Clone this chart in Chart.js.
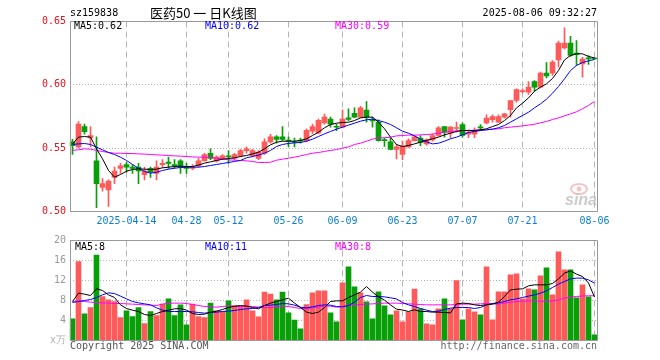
<!DOCTYPE html>
<html><head><meta charset="utf-8">
<script src="https://cdn.jsdelivr.net/npm/chart.js@4.4.1/dist/chart.umd.min.js"></script>
<style>
html,body{margin:0;padding:0;background:#fff;}
#wrap{position:relative;width:660px;height:360px;overflow:hidden;background:#fff;}
canvas{position:absolute;left:0;top:0;}
</style></head><body>
<div id="wrap"><canvas id="k" width="660" height="360"></canvas><canvas id="v" width="660" height="360"></canvas></div>
<script>
const dates = ['2025-03-31','2025-04-01','2025-04-02','2025-04-03','2025-04-07','2025-04-08','2025-04-09','2025-04-10','2025-04-11','2025-04-14','2025-04-15','2025-04-16','2025-04-17','2025-04-18','2025-04-21','2025-04-22','2025-04-23','2025-04-24','2025-04-25','2025-04-28','2025-04-29','2025-04-30','2025-05-06','2025-05-07','2025-05-08','2025-05-09','2025-05-12','2025-05-13','2025-05-14','2025-05-15','2025-05-16','2025-05-19','2025-05-20','2025-05-21','2025-05-22','2025-05-23','2025-05-26','2025-05-27','2025-05-28','2025-05-29','2025-05-30','2025-06-03','2025-06-04','2025-06-05','2025-06-06','2025-06-09','2025-06-10','2025-06-11','2025-06-12','2025-06-13','2025-06-16','2025-06-17','2025-06-18','2025-06-19','2025-06-20','2025-06-23','2025-06-24','2025-06-25','2025-06-26','2025-06-27','2025-06-30','2025-07-01','2025-07-02','2025-07-03','2025-07-04','2025-07-07','2025-07-08','2025-07-09','2025-07-10','2025-07-11','2025-07-14','2025-07-15','2025-07-16','2025-07-17','2025-07-18','2025-07-21','2025-07-22','2025-07-23','2025-07-24','2025-07-25','2025-07-28','2025-07-29','2025-07-30','2025-07-31','2025-08-01','2025-08-04','2025-08-05','2025-08-06'];

const tickDates  = ['2025-04-14','2025-04-28','2025-05-12','2025-05-26','2025-06-09','2025-06-23','2025-07-07','2025-07-21','2025-08-06'];
const tickLabels = ['2025-04-14','04-28','05-12','05-26','06-09','06-23','07-07','07-21','08-06'];

const open = [0.555,0.551,0.567,0.558,0.540,0.519,0.517,0.527,0.534,0.537,
0.535,0.535,0.529,0.534,0.530,0.537,0.539,0.537,0.540,0.5345,
0.534,0.536,0.540,0.546,0.540,0.542,0.544,0.542,0.544,0.548,
0.544,0.542,0.546,0.555,0.559,0.559,0.556,0.555,0.556,0.556,
0.5635,0.562,0.570,0.573,0.567,0.5666,0.574,0.5776,0.5745,0.580,
0.572,0.5705,0.5563,0.555,0.549,0.545,0.551,0.556,0.558,0.5534,
0.5566,0.560,0.567,0.562,0.5655,0.5687,0.561,0.561,0.5663,0.570,
0.5724,0.5705,0.5745,0.5803,0.5876,0.5947,0.5942,0.6026,0.5982,0.6092,
0.6092,0.6197,0.6292,0.6329,0.625,0.6166,0.6206,0.6206];
const high = [0.557,0.571,0.569,0.567,0.559,0.526,0.525,0.535,0.538,0.539,
0.537,0.538,0.535,0.535,0.540,0.541,0.543,0.541,0.541,0.538,
0.537,0.542,0.546,0.5495,0.544,0.545,0.548,0.546,0.549,0.551,
0.549,0.548,0.5574,0.561,0.560,0.567,0.559,0.558,0.558,0.5653,
0.569,0.573,0.577,0.5745,0.569,0.580,0.581,0.5818,0.583,0.5868,
0.5745,0.5724,0.558,0.558,0.553,0.5555,0.5574,0.560,0.560,0.5574,
0.5613,0.567,0.5671,0.567,0.5705,0.570,0.5645,0.566,0.5687,0.5763,
0.5763,0.5763,0.5776,0.5876,0.5968,0.5968,0.6026,0.6034,0.610,0.6176,
0.6192,0.6345,0.645,0.6382,0.635,0.6218,0.623,0.6213];
const low = [0.545,0.550,0.561,0.551,0.503,0.516,0.504,0.522,0.530,0.531,
0.530,0.522,0.525,0.527,0.525,0.535,0.534,0.534,0.530,0.530,
0.533,0.535,0.540,0.541,0.539,0.541,0.538,0.541,0.543,0.546,
0.543,0.541,0.545,0.554,0.554,0.556,0.551,0.551,0.554,0.555,
0.5613,0.5613,0.569,0.5666,0.5639,0.566,0.5718,0.574,0.574,0.5705,
0.5666,0.5555,0.5513,0.5487,0.5416,0.541,0.5503,0.5555,0.552,0.5524,
0.5555,0.5592,0.5587,0.5582,0.5626,0.5587,0.5582,0.5582,0.5639,0.5692,
0.5705,0.5703,0.5737,0.5745,0.5863,0.5934,0.5924,0.595,0.5976,0.6055,
0.6074,0.6139,0.6284,0.6224,0.6153,0.6061,0.6161,0.620];
const close = [0.552,0.569,0.563,0.560,0.522,0.522,0.524,0.532,0.536,0.535,
0.534,0.532,0.532,0.531,0.535,0.538,0.538,0.536,0.535,0.534,
0.535,0.540,0.545,0.542,0.543,0.544,0.543,0.545,0.548,0.5495,
0.548,0.547,0.555,0.559,0.557,0.557,0.5555,0.5545,0.5555,0.564,
0.567,0.572,0.5745,0.569,0.5665,0.573,0.5726,0.5745,0.5818,0.5745,
0.5715,0.556,0.556,0.549,0.551,0.5516,0.556,0.559,0.5545,0.5566,
0.560,0.566,0.5626,0.5666,0.566,0.560,0.5626,0.5634,0.566,0.5737,
0.575,0.575,0.5771,0.5876,0.5963,0.595,0.5982,0.5982,0.6092,0.6071,
0.6179,0.6329,0.6329,0.6232,0.624,0.6203,0.6205,0.6205];

const ma5 = [0.5534,0.5587,0.5592,0.5587,0.5495,0.5416,0.5324,0.5271,0.5292,0.5318,
0.5332,0.5337,0.5334,0.5332,0.5334,0.5345,0.5350,0.5355,0.5358,0.5355,
0.5355,0.5366,0.5382,0.5392,0.5403,0.5413,0.5418,0.5424,0.5434,0.5442,
0.5455,0.5468,0.5495,0.5526,0.5547,0.5555,0.5555,0.5555,0.5561,0.5574,
0.5600,0.5626,0.5661,0.5687,0.5697,0.5703,0.5705,0.5718,0.5739,0.5745,
0.5745,0.5705,0.5653,0.5587,0.5529,0.5513,0.5521,0.5534,0.5547,0.5561,
0.5574,0.5587,0.5605,0.5618,0.5632,0.5639,0.5639,0.5639,0.5645,0.5653,
0.5671,0.5687,0.5718,0.5758,0.5818,0.5855,0.5897,0.5950,0.5982,0.6008,
0.6050,0.6113,0.6197,0.6232,0.6245,0.6245,0.6224,0.6213];
const ma10 = [0.5529,0.5534,0.5537,0.5529,0.5508,0.5487,0.5466,0.5450,0.5429,0.5403,
0.5371,0.5342,0.5316,0.5303,0.5310,0.5324,0.5334,0.5342,0.5347,0.5350,
0.5350,0.5350,0.5355,0.5363,0.5371,0.5379,0.5387,0.5395,0.5403,0.5424,
0.5434,0.5445,0.5460,0.5482,0.5513,0.5529,0.5537,0.5542,0.5545,0.5555,
0.5571,0.5592,0.5613,0.5632,0.5650,0.5666,0.5682,0.5697,0.5713,0.5724,
0.5729,0.5718,0.5705,0.5687,0.5661,0.5634,0.5618,0.5597,0.5571,0.5550,
0.5534,0.5539,0.5555,0.5574,0.5587,0.5605,0.5624,0.5632,0.5639,0.5645,
0.5650,0.5661,0.5679,0.5705,0.5732,0.5758,0.5784,0.5818,0.5850,0.5887,
0.5934,0.5987,0.6047,0.6113,0.6153,0.6176,0.6190,0.6200];
const ma30 = [0.5482,0.5487,0.5495,0.5492,0.5482,0.5474,0.5466,0.5460,0.5460,0.5458,
0.5458,0.5455,0.5453,0.5450,0.5447,0.5445,0.5442,0.5439,0.5437,0.5434,
0.5431,0.5429,0.5429,0.5426,0.5421,0.5416,0.5408,0.5405,0.5403,0.5400,
0.5395,0.5387,0.5387,0.5389,0.5405,0.5413,0.5421,0.5429,0.5439,0.5450,
0.5460,0.5466,0.5474,0.5482,0.5489,0.5500,0.5510,0.5529,0.5539,0.5555,
0.5571,0.5582,0.5582,0.5587,0.5597,0.5600,0.5603,0.5603,0.5605,0.5608,
0.5611,0.5618,0.5626,0.5632,0.5637,0.5639,0.5639,0.5642,0.5645,0.5645,
0.5650,0.5653,0.5661,0.5666,0.5671,0.5676,0.5682,0.5689,0.5700,0.5711,
0.5726,0.5739,0.5755,0.5771,0.5787,0.5811,0.5837,0.5868];

const volume = [4.33,15.8,5.33,6.6,17.1,8.8,8.13,7.8,4.6,5.93,
4.8,6.6,3.4,5.8,5.0,7.27,8.33,5.0,7.13,3.13,
7.27,4.8,4.6,7.47,5.93,5.8,7.93,7.0,6.8,8.13,
5.93,4.73,9.67,9.27,8.13,9.67,5.53,4.07,2.33,7.2,
9.53,9.93,9.93,5.53,3.73,11.53,14.73,10.73,9.53,7.73,
4.33,9.73,6.93,5.13,5.93,3.73,5.67,10.3,6.33,3.33,
3.13,6.33,8.33,6.33,12.0,4.13,6.33,5.73,5.13,14.73,
4.13,9.73,9.73,13.13,13.33,8.33,10.33,10.13,12.93,14.53,
9.13,17.73,14.13,14.13,8.53,11.13,8.73,1.13];
const volMa5 = [7.8,9.47,9.27,9.0,10.33,10.0,9.13,8.6,7.13,6.4,
6.07,5.8,5.2,5.0,5.4,5.8,6.07,6.33,6.4,6.07,
5.4,5.2,5.27,5.67,5.87,6.2,6.6,6.85,7.0,6.87,
6.6,6.33,7.0,7.47,7.8,8.13,8.47,7.47,6.6,5.67,
5.4,5.67,6.6,7.8,7.93,7.93,8.6,9.13,9.67,10.8,
9.67,8.73,8.07,7.13,6.27,6.1,5.8,6.13,5.8,5.8,
5.67,5.67,5.6,5.53,7.33,7.47,7.4,7.13,7.0,7.13,
7.27,7.67,8.8,10.13,10.27,10.33,10.93,11.13,11.13,11.13,
11.4,12.33,13.47,13.93,13.27,12.8,11.5,8.7];
const volMa10 = [7.6,7.8,8.0,8.2,8.6,9.13,9.53,9.4,8.87,8.33,
7.8,7.53,7.33,7.13,6.53,6.07,5.8,5.8,5.8,5.8,
5.73,5.6,5.47,5.6,5.67,5.8,5.87,6.0,6.2,6.33,
6.4,6.6,7.0,7.07,7.2,7.4,7.33,7.07,6.67,6.53,
6.73,7.0,7.13,7.07,6.8,6.73,7.0,7.67,8.6,9.0,
8.8,8.8,8.73,8.53,8.33,7.6,7.13,6.8,6.4,6.07,
5.8,5.87,6.2,6.47,6.6,6.6,6.6,6.4,6.6,7.13,
7.4,7.53,7.8,8.13,8.33,8.6,8.87,9.13,9.47,9.93,
10.6,11.27,11.8,12.33,12.47,12.47,12.13,11.47];
const volMa30 = [7.8,7.93,7.8,7.67,7.6,7.53,7.47,7.4,7.4,7.33,
7.27,7.2,7.13,7.07,7.0,7.27,7.47,7.47,7.47,7.4,
7.2,7.0,6.8,6.73,6.67,6.8,6.93,6.8,6.8,6.87,
6.8,6.67,6.6,6.6,6.73,6.87,6.8,6.6,6.4,6.4,
6.53,6.67,6.87,6.87,6.67,6.8,7.0,7.13,7.2,7.27,
7.33,7.4,7.47,7.47,7.47,7.4,7.33,7.27,7.2,7.13,
7.13,7.13,7.13,7.13,7.2,7.27,7.27,7.27,7.33,7.4,
7.33,7.27,7.47,7.67,7.8,7.87,7.93,7.93,7.87,7.8,
7.93,8.13,8.47,8.67,8.8,8.9,8.95,8.95];

const priceTicks = [0.50, 0.55, 0.60, 0.65];
const volTicks = [0, 4, 8, 12, 16, 20];

/* ---- styling ---- */
const RED = '#ff5a5a', GREEN = '#089f08';
const MONO = '"DejaVu Sans Mono","Liberation Mono",monospace';
const GRID = '#b4b4b4', FRAME = '#999999';
const up = dates.map((d, i) => close[i] >= open[i]);
const colors = up.map(u => u ? RED : GREEN);
const tickIdx = tickDates.map(d => dates.indexOf(d));
const labelFor = i => { const k = tickIdx.indexOf(i); return k >= 0 ? tickLabels[k] : ''; };
const gridColor = ctx => tickIdx.indexOf(ctx.index) >= 0 ? GRID : 'rgba(0,0,0,0)';

const framePlugin = {
  id: 'frame',
  afterDraw(chart) {
    const a = chart.chartArea, c = chart.ctx;
    c.save();
    c.strokeStyle = FRAME; c.lineWidth = 1;
    const l = Math.ceil(a.left) + 0.5, r = Math.floor(a.right) + 0.5;
    const t = Math.floor(a.top) + 0.5, b = Math.floor(a.bottom) + 0.5;
    c.beginPath(); c.rect(l, t, r - l, b - t); c.stroke();
    c.restore();
  }
};

function txt(c, s, x, y, color, font, align) {
  c.fillStyle = color; c.font = font; c.textAlign = align || 'left'; c.textBaseline = 'middle';
  c.fillText(s, x, y);
}

const kText = {
  id: 'ktext',
  beforeDatasetsDraw(chart) {
    const c = chart.ctx; c.save();
    // sina watermark
    c.strokeStyle = 'rgba(235,160,160,0.6)'; c.lineWidth = 2;
    c.beginPath(); c.ellipse(579, 189, 8, 5, 0, 0, Math.PI * 2); c.stroke();
    c.fillStyle = 'rgba(235,160,160,0.6)';
    c.beginPath(); c.arc(579, 189, 2.5, 0, Math.PI * 2); c.fill();
    txt(c, 'sina', 581, 201, 'rgba(185,185,185,0.75)', 'italic bold 16px "Liberation Sans",Arial,sans-serif', 'center');
    c.restore();
  },
  afterDraw(chart) {
    const c = chart.ctx; c.save();
    txt(c, 'sz159838', 70, 13.5, '#000', '10px ' + MONO);
    txt(c, '医药50 一 日K线图', 150, 13.5, '#000', '13px "Noto Sans CJK SC",sans-serif');
    txt(c, '2025-08-06 09:32:27', 597, 13.5, '#000', '10px ' + MONO, 'right');
    txt(c, 'MA5:0.62', 74, 26.5, '#000', '10px ' + MONO);
    txt(c, 'MA10:0.62', 205, 26.5, '#0000ff', '10px ' + MONO);
    txt(c, 'MA30:0.59', 335, 26.5, '#ff00ff', '10px ' + MONO);
    c.restore();
  }
};
const vText = {
  id: 'vtext',
  afterDraw(chart) {
    const c = chart.ctx; c.save();
    txt(c, 'MA5:8', 75, 247, '#000', '10px ' + MONO);
    txt(c, 'MA10:11', 205, 247, '#0000ff', '10px ' + MONO);
    txt(c, 'MA30:8', 335, 247, '#ff00ff', '10px ' + MONO);
    txt(c, 'Copyright 2025 SINA.COM', 70, 346.5, '#555', '10px ' + MONO);
    txt(c, 'http://finance.sina.com.cn', 597, 346.5, '#666', '10px ' + MONO, 'right');
    c.restore();
  }
};

const lineDs = (data, color) => ({ type: 'line', data, borderColor: color, borderWidth: 1, pointRadius: 0, tension: 0, order: 1 });

new Chart(document.getElementById('k'), {
  data: {
    labels: dates,
    datasets: [
      lineDs(ma5, '#000000'),
      lineDs(ma10, '#0000ff'),
      lineDs(ma30, '#ff00ff'),
      { type: 'bar', data: dates.map((d, i) => [low[i], high[i]]), backgroundColor: colors, barThickness: 1, grouped: false, order: 3 },
      { type: 'bar', data: dates.map((d, i) => [open[i], close[i]]), backgroundColor: colors, barThickness: 5, minBarLength: 1, grouped: false, order: 2 }
    ]
  },
  options: {
    responsive: false, animation: false, devicePixelRatio: 1,
    layout: { padding: { left: 0, right: 62.5, top: 21.5, bottom: 120 } },
    plugins: { legend: { display: false }, tooltip: { enabled: false } },
    scales: {
      x: {
        type: 'category', offset: true,
        grid: { offset: false, drawTicks: false, color: gridColor, lineWidth: 1 },
        border: { display: false, dash: [6, 4] },
        ticks: { autoSkip: false, maxRotation: 0, minRotation: 0, padding: 4, color: '#0a7fd2', font: { family: MONO, size: 10 }, callback: (v, i) => labelFor(i) },
        afterFit: s => { s.height = 28.5; }
      },
      y: {
        min: priceTicks[0], max: priceTicks[priceTicks.length - 1],
        afterBuildTicks: s => { s.ticks = priceTicks.map(v => ({ value: v })); },
        ticks: { color: '#e8101a', padding: 3.5, font: { family: MONO, size: 10 }, callback: v => Number(v).toFixed(2) },
        grid: { drawTicks: false, color: GRID },
        border: { display: false, dash: [1, 2] },
        afterFit: s => { s.width = 69.5; }
      }
    }
  },
  plugins: [framePlugin, kText]
});

new Chart(document.getElementById('v'), {
  data: {
    labels: dates,
    datasets: [
      lineDs(volMa5, '#000000'),
      lineDs(volMa10, '#0000ff'),
      lineDs(volMa30, '#ff00ff'),
      { type: 'bar', data: volume, backgroundColor: colors, barThickness: 5, order: 2 }
    ]
  },
  options: {
    responsive: false, animation: false, devicePixelRatio: 1,
    layout: { padding: { left: 0, right: 62.5, top: 240.5, bottom: 19.5 } },
    plugins: { legend: { display: false }, tooltip: { enabled: false } },
    scales: {
      x: {
        type: 'category', offset: true,
        grid: { offset: false, drawTicks: false, color: gridColor, lineWidth: 1 },
        border: { display: false, dash: [6, 4] },
        ticks: { display: false, autoSkip: false },
        afterFit: s => { s.height = 0; }
      },
      y: {
        min: volTicks[0], max: volTicks[volTicks.length - 1],
        afterBuildTicks: s => { s.ticks = volTicks.map(v => ({ value: v })); },
        ticks: { color: ctx => ctx.tick && ctx.tick.value === 0 ? '#b0b0b0' : '#999999', padding: 3.5, font: { family: MONO, size: 10 }, callback: v => v === 0 ? 'x万' : String(v) },
        grid: { drawTicks: false, color: GRID },
        border: { display: false, dash: [1, 2] },
        afterFit: s => { s.width = 69.5; }
      }
    }
  },
  plugins: [framePlugin, vText]
});
</script>
</body></html>
